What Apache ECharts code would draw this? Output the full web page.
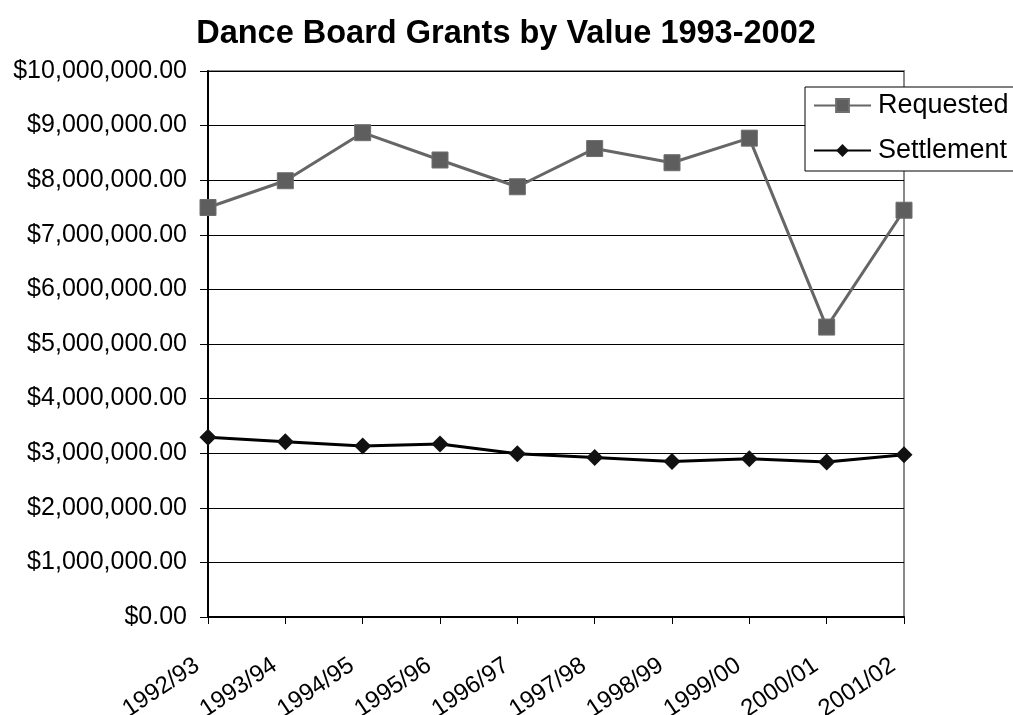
<!DOCTYPE html>
<html>
<head>
<meta charset="utf-8">
<script src="https://cdn.jsdelivr.net/npm/echarts@6/dist/echarts.min.js"></script>
<style>
  html, body { margin: 0; padding: 0; background: #fff; }
  #chart { width: 1013px; height: 715px; }
</style>
</head>
<body>
<div id="chart"></div>
<script>
// Financial years shown on the category axis
const years = ['1992/93', '1993/94', '1994/95', '1995/96', '1996/97',
               '1997/98', '1998/99', '1999/00', '2000/01', '2001/02'];

// Total value of grant applications received per year
const requested = [7500000, 7990000, 8870000, 8370000, 7880000,
                   8580000, 8320000, 8770000, 5310000, 7450000];

// Total value of grants actually settled per year
const settlement = [3290000, 3210000, 3130000, 3170000, 2990000,
                    2920000, 2850000, 2900000, 2840000, 2970000];

const FONT = '"Liberation Sans", Arial, Helvetica, sans-serif';

function money(v) {
  return '$' + v.toLocaleString('en-US', { minimumFractionDigits: 2, maximumFractionDigits: 2 });
}

const chart = echarts.init(document.getElementById('chart'), null, { renderer: 'canvas' });

chart.setOption({
  animation: false,
  backgroundColor: '#ffffff',
  textStyle: { fontFamily: FONT },
  title: {
    text: 'Dance Board Grants by Value 1993-2002',
    left: 501,
    textAlign: 'center',
    top: 13,
    textStyle: { fontFamily: FONT, fontSize: 32.5, fontWeight: 'bold', color: '#000' }
  },
  legend: {
    orient: 'vertical',
    left: 805,
    top: 87,
    padding: [5, 10, 7, 8],
    itemGap: 18,
    itemWidth: 57,
    itemHeight: 16,
    backgroundColor: '#fff',
    borderColor: '#000',
    borderWidth: 1,
    borderRadius: 0,
    textStyle: { fontFamily: FONT, fontSize: 27, color: '#000', padding: [0, 0, 0, 2] },
    data: ['Requested', 'Settlement']
  },
  grid: {
    left: 208,
    right: 109,
    top: 71,
    bottom: 98,
    containLabel: false,
    outerBoundsMode: 'none',
    show: true,
    borderColor: '#8a8a8a',
    borderWidth: 2,
    backgroundColor: '#fff'
  },
  xAxis: {
    type: 'category',
    data: years,
    boundaryGap: false,
    axisLine: { show: true, lineStyle: { color: '#000', width: 2 } },
    axisTick: { show: true, alignWithLabel: true, length: 7, lineStyle: { color: '#000', width: 1 } },
    axisLabel: {
      rotate: 34,
      margin: 39,
      interval: 0,
      padding: [0, 13, 0, 0],
      fontFamily: FONT,
      fontSize: 24,
      color: '#000'
    },
    splitLine: { show: false }
  },
  yAxis: {
    type: 'value',
    min: 0,
    max: 10000000,
    interval: 1000000,
    axisLine: { show: true, lineStyle: { color: '#000', width: 2 } },
    axisTick: { show: true, length: 8, lineStyle: { color: '#000', width: 1 } },
    axisLabel: {
      margin: 21,
      fontFamily: FONT,
      fontSize: 25,
      color: '#000',
      formatter: money
    },
    splitLine: { show: true, lineStyle: { color: '#000', width: 1 } }
  },
  series: [
    {
      name: 'Requested',
      type: 'line',
      data: requested,
      symbol: 'rect',
      symbolSize: 16,
      showAllSymbol: true,
      lineStyle: { color: '#666666', width: 3 },
      itemStyle: { color: '#5e5e5e', borderColor: '#6e6e6e', borderWidth: 1 },
      z: 3
    },
    {
      name: 'Settlement',
      type: 'line',
      data: settlement,
      symbol: 'diamond',
      symbolSize: [17, 17],
      showAllSymbol: true,
      lineStyle: { color: '#000', width: 3 },
      itemStyle: { color: '#111', borderColor: '#111', borderWidth: 0 },
      z: 4
    }
  ]
});
</script>
</body>
</html>
